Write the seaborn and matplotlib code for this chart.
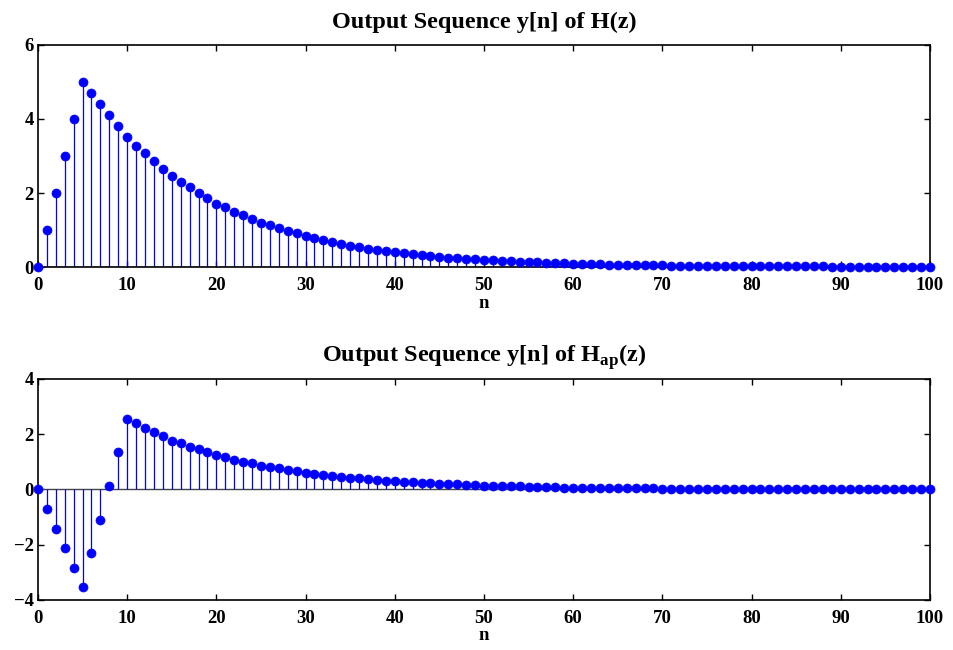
import numpy as np
import pandas as pd
import seaborn as sns
import matplotlib
matplotlib.use("Agg")
import matplotlib.pyplot as plt

# sample index
n = list(range(101))

# y[n] of H(z)
y_h = [0, 1, 2, 3, 4, 5, 4.69, 4.40, 4.10, 3.80,
       3.50, 3.28, 3.07, 2.87, 2.66, 2.45, 2.30, 2.15, 2.00, 1.86,
       1.71, 1.62, 1.50, 1.41, 1.30, 1.20, 1.13, 1.05, 0.98, 0.91,
       0.84, 0.78, 0.73, 0.68, 0.63, 0.58, 0.54, 0.50, 0.47, 0.44,
       0.41, 0.38, 0.35, 0.33, 0.30, 0.28, 0.26, 0.24, 0.23, 0.21,
       0.20, 0.18, 0.17, 0.16, 0.15, 0.14, 0.13, 0.12, 0.11, 0.10,
       0.09, 0.09, 0.08, 0.08, 0.07, 0.07, 0.06, 0.06, 0.05, 0.05,
       0.05, 0.04, 0.04, 0.04, 0.03, 0.03, 0.03, 0.03, 0.03, 0.02,
       0.02, 0.02, 0.02, 0.02, 0.02, 0.02, 0.02, 0.02, 0.02, 0.01,
       0.01, 0.01, 0.01, 0.01, 0.01, 0.01, 0.01, 0.01, 0.01, 0.01,
       0.01]

# y[n] of Hap(z)
y_ap = [0, -0.71, -1.42, -2.13, -2.83, -3.53, -2.30, -1.10, 0.12, 1.34,
        2.54, 2.39, 2.23, 2.07, 1.93, 1.77, 1.67, 1.55, 1.46, 1.35,
        1.24, 1.17, 1.08, 1.01, 0.94, 0.86, 0.81, 0.76, 0.71, 0.66,
        0.60, 0.57, 0.53, 0.49, 0.46, 0.43, 0.40, 0.37, 0.34, 0.32,
        0.30, 0.28, 0.26, 0.24, 0.22, 0.21, 0.19, 0.18, 0.17, 0.15,
        0.14, 0.13, 0.12, 0.12, 0.11, 0.10, 0.09, 0.09, 0.08, 0.07,
        0.07, 0.06, 0.06, 0.06, 0.05, 0.05, 0.04, 0.04, 0.04, 0.04,
        0.03, 0.03, 0.03, 0.03, 0.02, 0.02, 0.02, 0.02, 0.02, 0.02,
        0.02, 0.02, 0.02, 0.01, 0.01, 0.01, 0.01, 0.01, 0.01, 0.01,
        0.01, 0.01, 0.01, 0.01, 0.01, 0.01, 0.01, 0.01, 0.01, 0.01,
        0.01]

titles = ["Output Sequence y[n] of H(z)",
          r"Output Sequence y[n] of H$_{\mathbf{ap}}$(z)"]
ylims = [(0, 6), (-4, 4)]
yticks = [[0, 2, 4, 6], [-4, -2, 0, 2, 4]]
xticks = list(range(0, 101, 10))

sns.set_style("ticks")
plt.rcParams["font.family"] = ["Liberation Serif", "DejaVu Serif"]
plt.rcParams["font.weight"] = "bold"
plt.rcParams["mathtext.fontset"] = "custom"
plt.rcParams["mathtext.rm"] = "Liberation Serif:bold"
plt.rcParams["mathtext.bf"] = "Liberation Serif:bold"
plt.rcParams["axes.linewidth"] = 1.2
for key in ["text.color", "axes.labelcolor", "xtick.color", "ytick.color",
            "axes.edgecolor"]:
    plt.rcParams[key] = "black"

fig = plt.figure(figsize=(9.54, 6.5), dpi=100)
ax1 = fig.add_axes([0.0398, 0.589, 0.935, 0.342])
ax2 = fig.add_axes([0.0398, 0.077, 0.935, 0.340])

for ax, y, title, yl, yt in zip([ax1, ax2], [y_h, y_ap], titles, ylims, yticks):
    df = pd.DataFrame({"n": n, "y": y})
    ax.axhline(0, color="#444444", lw=1.0, zorder=1)
    ax.vlines(df["n"], 0, df["y"], color="blue", lw=0.9, zorder=2)
    sns.scatterplot(data=df, x="n", y="y", ax=ax, color="blue", s=42,
                    edgecolor="blue", linewidth=0.5, zorder=3, clip_on=False)
    ax.set_xlim(0, 100)
    ax.set_ylim(*yl)
    ax.set_xticks(xticks)
    ax.set_yticks(yt)
    ax.set_xlabel("n", fontsize=13.5, fontweight="bold", labelpad=0.5)
    ax.set_ylabel("")
    ax.set_title(title, fontsize=17.5, fontweight="bold", pad=12)
    ax.tick_params(direction="in", length=4, width=1, top=True, right=True,
                   labelsize=13.5, colors="black")
    ax.tick_params(axis="x", pad=7)
    ax.tick_params(axis="y", pad=3)
    for lab in ax.get_xticklabels() + ax.get_yticklabels():
        lab.set_fontweight("bold")
    for sp in ax.spines.values():
        sp.set_visible(True)
        sp.set_color("black")

fig.savefig("out.png", dpi=100, facecolor="white")
